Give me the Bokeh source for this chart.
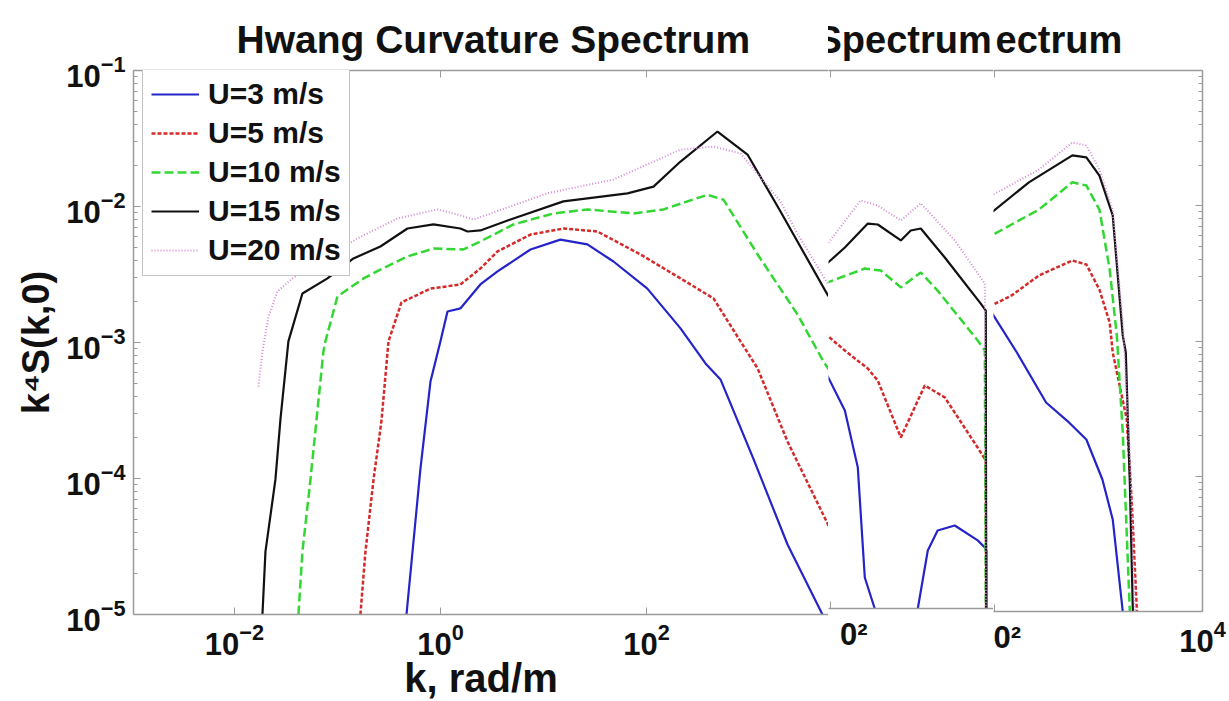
from bokeh.plotting import figure
from bokeh.models import (Range1d, LogAxis, FixedTicker, CustomJSTickFormatter,
                          Legend, LegendItem)
from bokeh.layouts import row
from bokeh.embed import file_html
from bokeh.resources import INLINE

NAN = float("nan")

TITLE_MAIN = "Hwang Curvature Spectrum"
TITLE_MID = "Spectrum"
TITLE_RIGHT = "ectrum"
XLABEL = "k, rad/m"
YLABEL = "k⁴S(k,0)"
SERIES = ["U=3 m/s", "U=5 m/s", "U=10 m/s", "U=15 m/s", "U=20 m/s"]
CUT_TICK_LABEL = "0²"   # the visible part of a clipped "10^2" label

X_TICKS = [1e-2, 1e0, 1e2, 1e4]
Y_TICKS = [1e-5, 1e-4, 1e-3, 1e-2, 1e-1]

# ---------------- main panel (Hwang) ----------------
k_a_u3 = [0.468, 0.547, 0.640, 0.80, 1.0, 1.17, 1.56, 2.44, 3.58, 7.48, 14.6, 26.7, 47.8, 102, 214, 374, 523, 1090, 2340, 5110, 5500]
s_a_u3 = [1e-5, 3.44e-5, 1.19e-4, 5.16e-4, 1.02e-3, 1.69e-3, 1.78e-3, 2.67e-3, 3.33e-3, 4.83e-3, 5.71e-3, 5.26e-3, 3.94e-3, 2.49e-3, 1.27e-3, 7.01e-4, 5.35e-4, 1.40e-4, 3.27e-5, 1e-5, 8e-6]

k_a_u5 = [0.167, 0.187, 0.224, 0.267, 0.313, 0.418, 0.80, 1.56, 2.44, 3.58, 7.48, 15.6, 33.4, 87.4, 214, 447, 818, 1200, 2340, 5720, 7640]
s_a_u5 = [1e-5, 2.90e-5, 9.84e-5, 2.62e-4, 1.02e-3, 1.97e-3, 2.49e-3, 2.67e-3, 3.50e-3, 4.67e-3, 6.22e-3, 6.89e-3, 6.55e-3, 4.44e-3, 2.96e-3, 2.11e-3, 1.02e-3, 6.44e-4, 1.87e-4, 4.67e-5, 3.01e-5]

k_a_u10 = [0.0418, 0.0457, 0.0547, 0.0731, 0.0764, 0.100, 0.179, 0.261, 0.478, 0.855, 1.67, 2.44, 5.11, 12.5, 26.7, 74.8, 146, 391, 560, 1200, 2920, 5230, 7640]
s_a_u10 = [1e-5, 2.90e-5, 9.84e-5, 8.59e-4, 1.02e-3, 2.18e-3, 2.96e-3, 3.44e-3, 4.29e-3, 4.91e-3, 4.83e-3, 5.53e-3, 7.38e-3, 8.89e-3, 9.51e-3, 8.89e-3, 9.51e-3, 1.22e-2, 1.12e-2, 4.44e-3, 1.61e-3, 7.24e-4, 4.74e-4]

k_a_u15 = [0.0187, 0.0200, 0.0250, 0.0280, 0.0334, 0.0457, 0.0800, 0.143, 0.261, 0.478, 0.855, 1.56, 1.83, 2.44, 5.11, 15.6, 65.4, 117, 214, 489, 957, 2000, 5720, 7640]
s_a_u15 = [1e-5, 2.90e-5, 9.84e-5, 2.76e-4, 1.02e-3, 2.29e-3, 2.96e-3, 4.15e-3, 5.08e-3, 6.89e-3, 7.38e-3, 6.89e-3, 6.55e-3, 6.67e-3, 8.17e-3, 1.09e-2, 1.25e-2, 1.40e-2, 2.14e-2, 3.56e-2, 2.41e-2, 9.18e-3, 2.25e-3, 1.63e-3]

k_a_u20 = [0.0171, 0.0187, 0.0214, 0.0261, 0.0366, 0.156, 0.383, 0.935, 1.46, 2.09, 10.9, 47.8, 102, 214, 447, 818, 2000, 2920, 5720, 7640]
s_a_u20 = [4.74e-4, 8.59e-4, 1.55e-3, 2.37e-3, 2.96e-3, 5.82e-3, 8.17e-3, 9.51e-3, 8.74e-3, 8.01e-3, 1.25e-2, 1.58e-2, 2.04e-2, 2.62e-2, 2.76e-2, 2.45e-2, 1.09e-2, 6.32e-3, 2.72e-3, 1.84e-3]

# ---------------- middle strip ----------------
k_b_u3 = [87.4, 137, 183, 214, 267, 285, NAN, 684, 700, 875, 1090, 1600, 2670, 3130, 3240, 3240]
s_b_u3 = [5.89e-4, 2.97e-4, 1.12e-4, 1.70e-5, 1e-5, 1e-6, NAN, 1e-6, 1e-5, 2.70e-5, 3.80e-5, 4.14e-5, 3.21e-5, 2.84e-5, 2.7e-5, 1e-6]

k_b_u5 = [87.4, 137, 229, 286, 479, 818, 1280, 2670, 3200, 3240]
s_b_u5 = [1.11e-3, 8.28e-4, 6.08e-4, 4.95e-4, 1.87e-4, 4.55e-4, 3.71e-4, 1.57e-4, 1.26e-4, 1e-6]

k_b_u10 = [87.4, 214, 306, 479, 748, 1090, 2670, 3130, 3240]
s_b_u10 = [2.61e-3, 3.37e-3, 3.26e-3, 2.44e-3, 3.15e-3, 2.31e-3, 9.84e-4, 8.28e-4, 1e-6]

k_b_u15 = [84, 137, 229, 286, 479, 598, 748, 1280, 2860, 3200, 3240]
s_b_u15 = [3.45e-3, 4.83e-3, 7.28e-3, 7.16e-3, 5.45e-3, 6.46e-3, 6.69e-3, 4.07e-3, 1.85e-3, 1.64e-3, 1e-6]

k_b_u20 = [87.4, 195, 286, 479, 748, 1600, 3130, 3240]
s_b_u20 = [4.83e-3, 1.08e-2, 9.91e-3, 7.67e-3, 1.03e-2, 5.45e-3, 2.61e-3, 1e-6]

# ---------------- right strip ----------------
k_c_u3 = [78.2, 93.5, 164, 313, 523, 764, 1090, 1370, 1710, 1800]
s_c_u3 = [1.93e-3, 1.63e-3, 8.22e-4, 3.51e-4, 2.49e-4, 1.87e-4, 9.46e-5, 4.79e-5, 1e-5, 5e-6]

k_c_u5 = [78.2, 93.5, 146, 267, 560, 764, 1020, 1280, 1370, 1870, 2090, 2340, 2400]
s_c_u5 = [1.74e-3, 1.83e-3, 2.17e-3, 3.05e-3, 3.94e-3, 3.68e-3, 2.40e-3, 1.37e-3, 8.22e-4, 2.63e-4, 6.40e-5, 1e-5, 5e-6]

k_c_u10 = [78.2, 93.5, 267, 560, 764, 1020, 1280, 1500, 1710, 2000, 2100]
s_c_u10 = [5.53e-3, 6.03e-3, 9.37e-3, 1.49e-2, 1.41e-2, 9.37e-3, 3.38e-3, 1.10e-3, 2.10e-4, 1e-5, 5e-6]

k_c_u15 = [78.2, 93.5, 214, 560, 764, 1020, 1370, 1710, 1830, 2000, 2140, 2200]
s_c_u15 = [8.18e-3, 8.91e-3, 1.49e-2, 2.36e-2, 2.28e-2, 1.67e-2, 8.48e-3, 1.10e-3, 8.22e-4, 9.0e-5, 1e-5, 5e-6]

k_c_u20 = [78.2, 93.5, 267, 560, 764, 1020, 1370, 1710, 2000, 2240, 2300]
s_c_u20 = [1.09e-2, 1.19e-2, 1.85e-2, 2.94e-2, 2.79e-2, 1.85e-2, 9.37e-3, 1.37e-3, 1.50e-4, 1e-5, 5e-6]

# ---------------- styles ----------------
FONT = "Liberation Sans"
FRAME = "#9a9a9a"
STYLES = [
    dict(line_color="#2424c8", line_width=2.2, line_dash="solid"),
    dict(line_color="#d42a2a", line_width=2.5, line_dash="4 2"),
    dict(line_color="#33d633", line_width=2.5, line_dash="9 4"),
    dict(line_color="#111111", line_width=2.2, line_dash="solid"),
    dict(line_color="#d68ad6", line_width=2.0, line_dash="1 2"),
]

Y_MINOR = [m * t for t in Y_TICKS[:-1] for m in range(2, 10)]


def blank_axis(ticks, minor):
    return LogAxis(ticker=FixedTicker(ticks=ticks, minor_ticks=minor),
                   formatter=CustomJSTickFormatter(code="return ''"),
                   axis_line_color=FRAME, axis_line_width=1.5,
                   major_tick_line_color=FRAME, minor_tick_line_color=FRAME,
                   major_tick_in=7, major_tick_out=0, minor_tick_in=4, minor_tick_out=0,
                   major_label_standoff=0, major_label_text_font_size="2px")


def style_x(ax, overrides=None):
    ax.ticker = FixedTicker(ticks=X_TICKS, minor_ticks=[])
    ax.axis_line_color = FRAME
    ax.axis_line_width = 1.5
    ax.major_tick_line_color = FRAME
    ax.major_tick_in = 7
    ax.major_tick_out = 0
    ax.minor_tick_line_color = None
    ax.major_label_text_font = FONT
    ax.major_label_text_font_size = "31px"
    ax.major_label_text_font_style = "bold"
    ax.major_label_text_color = "#111111"
    ax.major_label_standoff = 8
    if overrides:
        ax.major_label_overrides = overrides


def make_fig(title, fw, fh, bl, br, bt, bb, xr, offset, tsize):
    p = figure(title=title, frame_width=fw, frame_height=fh,
               min_border_left=bl, min_border_right=br,
               min_border_top=bt, min_border_bottom=bb,
               x_axis_type="log", y_axis_type="log",
               x_range=Range1d(*xr), y_range=Range1d(1e-5, 1e-1),
               output_backend="svg", toolbar_location=None,
               outline_line_color=None, background_fill_color="white",
               border_fill_color="white")
    p.xgrid.visible = False
    p.ygrid.visible = False
    t = p.title
    t.align = "left"
    t.offset = offset
    t.standoff = 20
    t.text_font = FONT
    t.text_font_size = tsize
    t.text_font_style = "bold"
    t.text_color = "#111111"
    return p


# ---- main figure ----
p1 = make_fig(TITLE_MAIN, 695, 544, 133, 0, 69, 87, (10 ** -2.98, 10 ** 3.767), 103, "39px")
style_x(p1.xaxis[0])
xa = p1.xaxis[0]
xa.axis_label = XLABEL
xa.axis_label_text_font = FONT
xa.axis_label_text_font_size = "40px"
xa.axis_label_text_font_style = "bold"
xa.axis_label_text_color = "#111111"
xa.axis_label_standoff = -2
ya = p1.yaxis[0]
ya.ticker = FixedTicker(ticks=Y_TICKS, minor_ticks=Y_MINOR)
ya.axis_line_color = FRAME
ya.axis_line_width = 1.5
ya.major_tick_line_color = FRAME
ya.minor_tick_line_color = FRAME
ya.major_tick_in = 7
ya.major_tick_out = 0
ya.minor_tick_in = 4
ya.minor_tick_out = 0
ya.major_label_text_font = FONT
ya.major_label_text_font_size = "31px"
ya.major_label_text_font_style = "bold"
ya.major_label_text_color = "#111111"
ya.major_label_standoff = 8
ya.axis_label = YLABEL
ya.axis_label_text_font = FONT
ya.axis_label_text_font_size = "38px"
ya.axis_label_text_font_style = "bold"
ya.axis_label_text_color = "#111111"
ya.axis_label_standoff = 6
p1.add_layout(blank_axis(X_TICKS, []), "above")

main_data = [(k_a_u3, s_a_u3), (k_a_u5, s_a_u5), (k_a_u10, s_a_u10),
             (k_a_u15, s_a_u15), (k_a_u20, s_a_u20)]
renderers = []
for (k, s), st in zip(main_data, STYLES):
    renderers.append(p1.line(k, s, **st))

legend = Legend(items=[LegendItem(label=lab, renderers=[r]) for lab, r in zip(SERIES, renderers)],
                location=(9, 338), label_text_font=FONT, label_text_font_size="30px",
                label_text_font_style="bold", label_text_color="#111111",
                glyph_width=48, glyph_height=20, label_height=20, label_standoff=9,
                padding=8, spacing=5, margin=0,
                border_line_color="#8a8a8a", border_line_width=1,
                background_fill_color="white", background_fill_alpha=1)
p1.add_layout(legend)

# ---- middle strip ----
p2 = make_fig(TITLE_MID, 165, 538, 0, 0, 70, 92, (10 ** 1.978, 10 ** 3.58), -12, "38px")
p2.yaxis.visible = False
style_x(p2.xaxis[0], {100: CUT_TICK_LABEL})
p2.add_layout(blank_axis(X_TICKS, []), "above")
mid_data = [(k_b_u3, s_b_u3), (k_b_u5, s_b_u5), (k_b_u10, s_b_u10),
            (k_b_u15, s_b_u15), (k_b_u20, s_b_u20)]
for (k, s), st in zip(mid_data, STYLES):
    p2.line(k, s, **st)

# ---- right strip ----
p3 = make_fig(TITLE_RIGHT, 209, 541, 0, 26, 68, 91, (10 ** 1.99, 10 ** 4), 2, "38px")
p3.yaxis.visible = False
style_x(p3.xaxis[0], {100: CUT_TICK_LABEL})
p3.add_layout(blank_axis(X_TICKS, []), "above")
p3.add_layout(blank_axis(Y_TICKS, Y_MINOR), "right")
right_data = [(k_c_u3, s_c_u3), (k_c_u5, s_c_u5), (k_c_u10, s_c_u10),
              (k_c_u15, s_c_u15), (k_c_u20, s_c_u20)]
for (k, s), st in zip(right_data, STYLES):
    p3.line(k, s, **st)

layout = row(p1, p2, p3, spacing=0)
open("out.html", "w").write(file_html(layout, INLINE))
